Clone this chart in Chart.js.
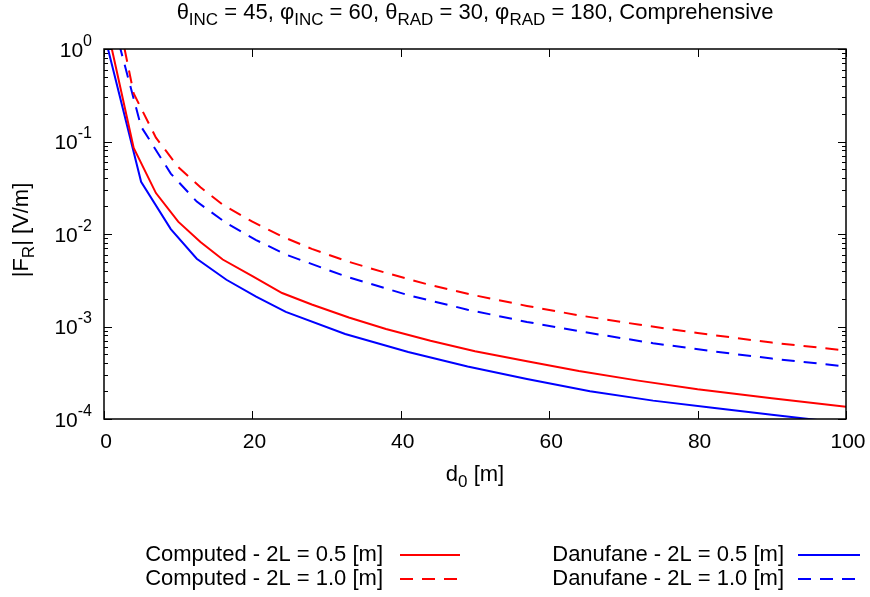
<!DOCTYPE html>
<html>
<head>
<meta charset="utf-8">
<script src="https://cdn.jsdelivr.net/npm/chart.js@4.4.1/dist/chart.umd.min.js"></script>
<style>
  body { margin: 0; background: #fff; }
  canvas { display: block; }
</style>
</head>
<body>
<canvas id="fr" width="870" height="597"></canvas>
<script>
// distances d0 [m] sampled for the computed curves
const computedX = [1, 4, 7, 10, 13, 16, 20, 24, 28, 33, 38, 44, 50, 57, 64, 72, 80, 90, 100]
const computed05 = [1.05, 0.085, 0.0277, 0.0136, 0.0082, 0.0053, 0.0035, 0.0023, 0.00173, 0.00125, 0.00094, 0.0007, 0.00054, 0.00042, 0.00033, 0.00026, 0.00021, 0.000168, 0.000136]
const computed10 = [5.0, 0.33, 0.11, 0.053, 0.032, 0.0207, 0.0136, 0.0094, 0.0069, 0.005, 0.0038, 0.0028, 0.00217, 0.00167, 0.00132, 0.00105, 0.00085, 0.00067, 0.00055]

// distances for the Danufane curves
const danufaneX = [0.5, 5, 9, 12.5, 16.5, 20.5, 24.5, 32.5, 41, 49, 57, 65.5, 74, 82, 90, 100]
const danufane05 = [1.03, 0.0367, 0.0113, 0.0054, 0.0032, 0.0021, 0.00144, 0.00083, 0.00053, 0.00037, 0.00027, 0.0002, 0.000158, 0.000132, 0.000111, 0.00009]
const danufane10 = [3.3, 0.145, 0.045, 0.0224, 0.0131, 0.0086, 0.006, 0.0035, 0.00218, 0.00152, 0.00112, 0.00085, 0.00066, 0.00054, 0.00045, 0.00037]

const xTicks = [0, 20, 40, 60, 80, 100]
const yTickExps = [0, -1, -2, -3, -4]

const FONT = '"Liberation Sans", Arial, sans-serif'

function pts(xs, ys) {
  return xs.map((x, i) => ({ x: x, y: ys[i] }))
}

// text made of normal / sub / sup pieces (gnuplot style)
function richWidth(ctx, parts, size) {
  let w = 0
  parts.forEach(p => {
    ctx.font = (p[1] ? Math.round(size * 0.78) : size) + 'px ' + FONT
    w += ctx.measureText(p[0]).width
  })
  return w
}
function drawRich(ctx, parts, x, y, size, align) {
  let w = richWidth(ctx, parts, size)
  let cx = align === 'center' ? x - w / 2 : align === 'right' ? x - w : x
  ctx.textBaseline = 'middle'
  ctx.textAlign = 'left'
  parts.forEach(p => {
    let s = p[1] ? Math.round(size * 0.78) : size
    ctx.font = s + 'px ' + FONT
    let dy = p[1] === 'sub' ? size * 0.33 : p[1] === 'sup' ? -size * 0.45 : 0
    ctx.fillText(p[0], cx, y + dy)
    cx += ctx.measureText(p[0]).width
  })
}

const decor = {
  id: 'decor',
  afterDatasetsDraw(chart) {
    const ctx = chart.ctx
    const a = chart.chartArea
    const xs = chart.scales.x, ys = chart.scales.y
    ctx.save()
    ctx.strokeStyle = '#000'
    ctx.lineWidth = 1.5
    ctx.strokeRect(a.left, a.top, a.right - a.left, a.bottom - a.top)
    ctx.lineWidth = 1
    ctx.beginPath()
    xTicks.forEach(v => {
      let px = Math.round(xs.getPixelForValue(v)) + 0.5
      ctx.moveTo(px, a.bottom); ctx.lineTo(px, a.bottom - 8)
      ctx.moveTo(px, a.top); ctx.lineTo(px, a.top + 8)
    })
    for (let e = -4; e <= 0; e++) {
      for (let m = 1; m <= 9; m++) {
        let v = m * Math.pow(10, e)
        if (v > 1) break
        let py = Math.round(ys.getPixelForValue(v)) + 0.5
        let len = m === 1 ? 8 : 4
        ctx.moveTo(a.left, py); ctx.lineTo(a.left + len, py)
        ctx.moveTo(a.right, py); ctx.lineTo(a.right - len, py)
      }
    }
    ctx.stroke()

    ctx.fillStyle = '#000'
    // x tick labels
    xTicks.forEach(v => {
      drawRich(ctx, [[String(v)]], xs.getPixelForValue(v) + 2, 442, 21, 'center')
    })
    // y tick labels 10^n
    yTickExps.forEach(e => {
      let py = ys.getPixelForValue(Math.pow(10, e))
      drawRich(ctx, [['10'], [String(e), 'sup']], 92, py + 2, 21, 'right')
    })
    // title
    drawRich(ctx, [['θ'], ['INC', 'sub'], [' = 45, φ'], ['INC', 'sub'], [' = 60, θ'], ['RAD', 'sub'],
      [' = 30, φ'], ['RAD', 'sub'], [' = 180, Comprehensive']], (a.left + a.right) / 2, 13, 22, 'center')
    // x title
    drawRich(ctx, [['d'], ['0', 'sub'], [' [m]']], (a.left + a.right) / 2, 475, 22, 'center')
    // y title
    ctx.save()
    ctx.translate(22, 230)
    ctx.rotate(-Math.PI / 2)
    drawRich(ctx, [['|F'], ['R', 'sub'], ['| [V/m]']], 0, 0, 22, 'center')
    ctx.restore()

    // legend, two columns
    const cols = [[383, 400, 460], [784, 798, 860]]
    const rows = [555, 579]
    chart.data.datasets.forEach((ds, i) => {
      let c = cols[Math.floor(i / 2)], r = rows[i % 2]
      ctx.font = '22px ' + FONT
      ctx.textAlign = 'right'
      ctx.textBaseline = 'middle'
      ctx.fillText(ds.label, c[0], r)
      ctx.strokeStyle = ds.borderColor
      ctx.lineWidth = ds.borderWidth
      ctx.setLineDash(ds.borderDash || [])
      ctx.beginPath()
      ctx.moveTo(c[1], r); ctx.lineTo(c[2], r)
      ctx.stroke()
      ctx.setLineDash([])
    })
    ctx.restore()
  }
}

const chart = new Chart(document.getElementById('fr'), {
  type: 'line',
  data: {
    datasets: [
      { label: 'Computed - 2L = 0.5 [m]', data: pts(computedX, computed05), borderColor: '#ff0000', borderWidth: 2 },
      { label: 'Computed - 2L = 1.0 [m]', data: pts(computedX, computed10), borderColor: '#ff0000', borderWidth: 2, borderDash: [13, 9] },
      { label: 'Danufane - 2L = 0.5 [m]', data: pts(danufaneX, danufane05), borderColor: '#0000ff', borderWidth: 2 },
      { label: 'Danufane - 2L = 1.0 [m]', data: pts(danufaneX, danufane10), borderColor: '#0000ff', borderWidth: 2, borderDash: [13, 9] }
    ]
  },
  options: {
    responsive: false,
    animation: false,
    devicePixelRatio: 1,
    elements: { point: { radius: 0 }, line: { tension: 0, fill: false } },
    layout: { padding: { left: 0, right: 24, top: 49, bottom: 0 } },
    plugins: { legend: { display: false }, tooltip: { enabled: false }, title: { display: false } },
    scales: {
      x: {
        type: 'linear', min: 0, max: 100,
        grid: { display: false },
        border: { display: false },
        ticks: { display: false },
        afterFit: s => { s.height = 597 - 419 }
      },
      y: {
        type: 'logarithmic', min: 1e-4, max: 1,
        grid: { display: false },
        border: { display: false },
        ticks: { display: false },
        afterFit: s => { s.width = 104 }
      }
    }
  },
  plugins: [decor]
})
</script>
</body>
</html>
